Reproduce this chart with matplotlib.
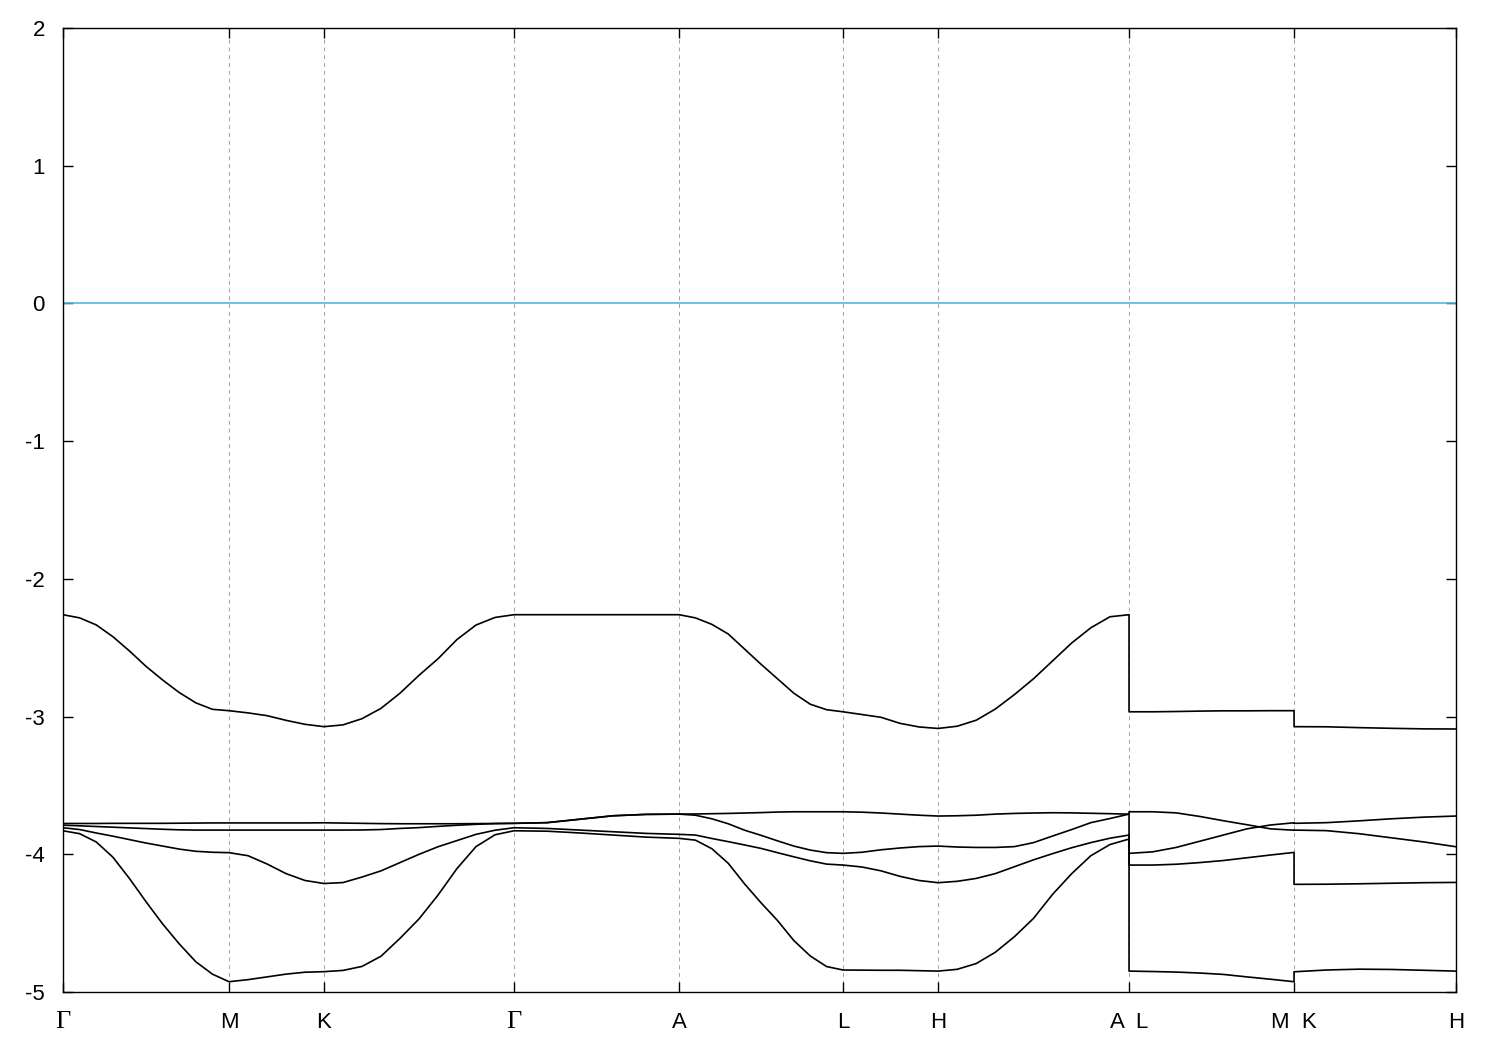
import numpy as np
import matplotlib.pyplot as plt

plt.rcParams['font.family'] = ['Liberation Sans', 'DejaVu Sans']
plt.rcParams['axes.unicode_minus'] = False

# k-path: high-symmetry points (path length units)
hs_k = [0, 166, 261, 451, 616, 780, 875, 1066, 1231, 1393]
hs_labels = ["Γ", "M", "K", "Γ", "A", "L", "H", "A  L", "M  K", "H"]
seg_ends = [(0, 166), (166, 261), (261, 451), (451, 616), (616, 780),
            (780, 875), (875, 1066), (1066, 1231), (1231, 1393)]
seg_npts = [11, 6, 11, 6, 11, 6, 11, 8, 6]
seg_jump = [False] * 7 + [True, True]   # A|L and M|K are path breaks

# band energies (eV), read segment by segment
band7 = [-2.260, -2.283, -2.334, -2.419, -2.523, -2.635, -2.734, -2.825, -2.900, -2.947, -2.957,
         -2.973, -2.993, -3.027, -3.056, -3.073,
         -3.060, -3.015, -2.940, -2.830, -2.700, -2.580, -2.440, -2.335, -2.280, -2.260,
         -2.260, -2.260, -2.260, -2.260, -2.260,
         -2.283, -2.330, -2.400, -2.510, -2.620, -2.725, -2.830, -2.910, -2.950, -2.965,
         -2.985, -3.005, -3.049, -3.075, -3.086,
         -3.070, -3.026, -2.945, -2.840, -2.725, -2.595, -2.465, -2.355, -2.275, -2.260,
         -2.965, -2.965, -2.963, -2.960, -2.958, -2.958, -2.957, -2.957,
         -3.073, -3.074, -3.080, -3.085, -3.089, -3.090]

band6 = [-3.776, -3.776, -3.776, -3.775, -3.775, -3.775, -3.775, -3.774, -3.773, -3.772, -3.772,
         -3.772, -3.772, -3.772, -3.772, -3.771,
         -3.773, -3.775, -3.777, -3.778, -3.778, -3.778, -3.778, -3.777, -3.776, -3.775,
         -3.770, -3.745, -3.720, -3.710, -3.708,
         -3.707, -3.705, -3.703, -3.700, -3.697, -3.693, -3.691, -3.691, -3.691, -3.691,
         -3.694, -3.700, -3.708, -3.716, -3.722,
         -3.720, -3.716, -3.708, -3.703, -3.700, -3.698, -3.699, -3.702, -3.705, -3.708,
         -3.691, -3.691, -3.699, -3.725, -3.756, -3.785, -3.815, -3.825,
         -3.824, -3.828, -3.850, -3.880, -3.910, -3.945]

band5 = [-3.788, -3.793, -3.798, -3.803, -3.808, -3.813, -3.818, -3.822, -3.824, -3.824, -3.824,
         -3.824, -3.824, -3.824, -3.824, -3.824,
         -3.824, -3.823, -3.820, -3.812, -3.806, -3.797, -3.789, -3.782, -3.777, -3.775,
         -3.770, -3.745, -3.720, -3.710, -3.708,
         -3.716, -3.742, -3.778, -3.825, -3.862, -3.902, -3.940, -3.969, -3.988, -3.993,
         -3.985, -3.967, -3.954, -3.944, -3.940,
         -3.947, -3.950, -3.950, -3.944, -3.915, -3.867, -3.820, -3.770, -3.740, -3.708,
         -3.993, -3.982, -3.950, -3.905, -3.860, -3.815, -3.787, -3.771,
         -3.775, -3.770, -3.757, -3.742, -3.730, -3.722]

band34 = [-3.807, -3.820, -3.845, -3.868, -3.893, -3.918, -3.940, -3.962, -3.978, -3.985, -3.988,
          -4.010, -4.070, -4.140, -4.190, -4.212,
          -4.205, -4.165, -4.120, -4.060, -4.000, -3.945, -3.900, -3.855, -3.825, -3.807,
          -3.812, -3.824, -3.836, -3.848, -3.855,
          -3.860, -3.885, -3.908, -3.932, -3.957, -3.988, -4.018, -4.047, -4.071, -4.078,
          -4.092, -4.120, -4.160, -4.190, -4.206,
          -4.196, -4.175, -4.140, -4.090, -4.040, -3.995, -3.952, -3.915, -3.883, -3.860,
          -4.078, -4.078, -4.072, -4.060, -4.045, -4.025, -4.005, -3.986,
          -4.218, -4.217, -4.214, -4.210, -4.206, -4.204]

band12 = [-3.829, -3.850, -3.910, -4.020, -4.175, -4.344, -4.505, -4.650, -4.780, -4.870, -4.925,
          -4.910, -4.890, -4.870, -4.856, -4.852,
          -4.843, -4.814, -4.740, -4.610, -4.469, -4.296, -4.103, -3.944, -3.858, -3.829,
          -3.832, -3.845, -3.860, -3.875, -3.884,
          -3.897, -3.959, -4.065, -4.215, -4.352, -4.480, -4.626, -4.738, -4.815, -4.840,
          -4.841, -4.842, -4.842, -4.845, -4.848,
          -4.835, -4.793, -4.711, -4.598, -4.465, -4.290, -4.140, -4.010, -3.929, -3.889,
          -4.848, -4.851, -4.855, -4.862, -4.872, -4.890, -4.907, -4.925,
          -4.853, -4.840, -4.834, -4.836, -4.842, -4.848]

bands = [band12, band34, band5, band6, band7]

# build the k axis
k = []
for i, ((a, b), n) in enumerate(zip(seg_ends, seg_npts)):
    pts = np.linspace(a, b, n)
    if i > 0 and not seg_jump[i]:
        pts = pts[1:]
    k.extend(pts)
k = np.array(k)

fig = plt.figure(figsize=(15, 10.5), dpi=100)
ax = fig.add_axes([0.042, 0.0552, 0.9287, 0.9181])

for xv in hs_k[1:-1]:
    ax.axvline(xv, color='#a0a0a0', lw=0.7, ls=(0, (4, 4)), zorder=1)

ax.axhline(0, color='#56b4e9', lw=1.2, zorder=2)

for b in bands:
    ax.plot(k, b, color='black', lw=1.2, zorder=3, solid_joinstyle='round')

ax.set_xlim(hs_k[0], hs_k[-1])
ax.set_ylim(-5, 2)
ax.set_yticks(range(-5, 3))
ax.set_yticklabels([str(v) for v in range(-5, 3)])
ax.set_xticks(hs_k)
ax.set_xticklabels(hs_labels)

ax.tick_params(axis='both', direction='in', length=7.5, width=1.0,
               top=True, right=True, labelsize=16)
ax.tick_params(axis='x', pad=26)
ax.tick_params(axis='y', pad=13)
# align x labels on their baseline so the serif Gamma sits like the others
for lab in ax.get_xticklabels():
    lab.set_verticalalignment('baseline')
    if lab.get_text() == "Γ":
        lab.set_fontfamily('Liberation Serif')
        lab.set_fontsize(19)
for s in ax.spines.values():
    s.set_linewidth(1.0)

fig.savefig('out.png', dpi=100)
